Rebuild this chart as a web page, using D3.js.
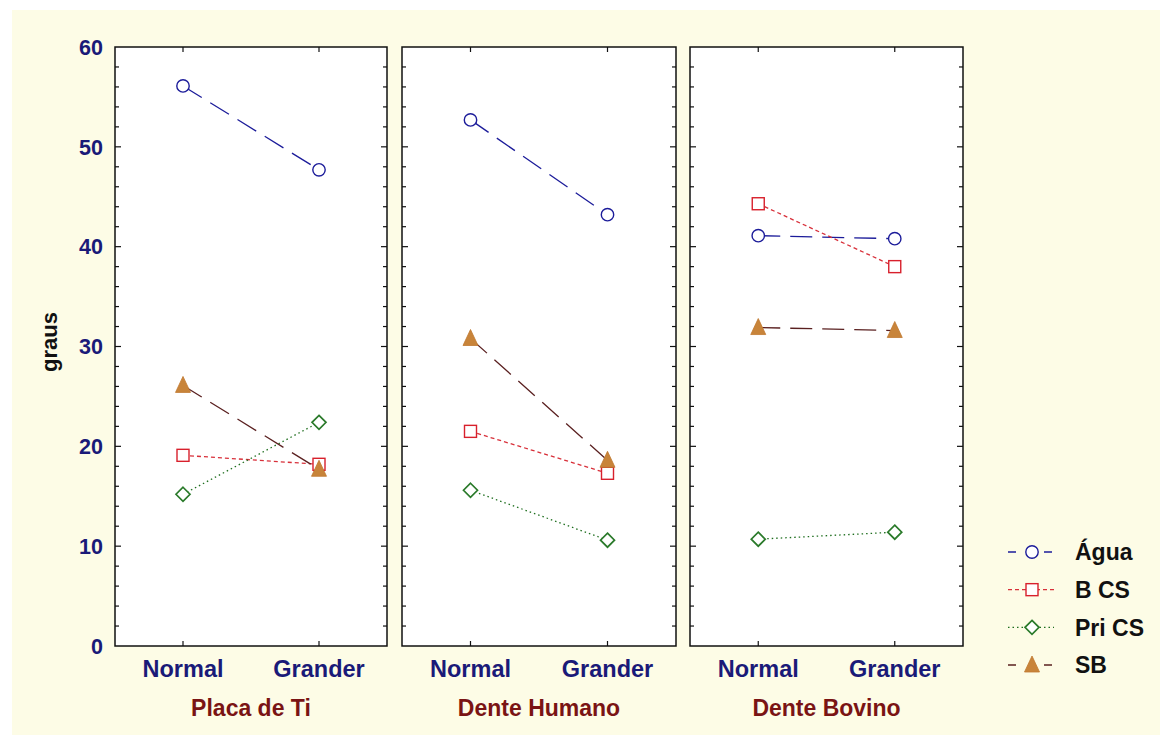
<!DOCTYPE html>
<html><head><meta charset="utf-8">
<script src="https://cdn.jsdelivr.net/npm/d3@7"></script>
<style>body{margin:0;background:#fff}svg{display:block}</style>
</head><body>
<script>
const groups = ["Placa de Ti", "Dente Humano", "Dente Bovino"];
const categories = ["Normal", "Grander"];
const seriesNames = ["Água", "B CS", "Pri CS", "SB"];
const agua  = [[56.1, 47.7], [52.7, 43.2], [41.1, 40.8]];
const bcs   = [[19.1, 18.2], [21.5, 17.3], [44.3, 38.0]];
const prics = [[15.2, 22.4], [15.6, 10.6], [10.7, 11.4]];
const sb    = [[26.1, 17.7], [30.8, 18.6], [31.9, 31.6]];
const yTicks = [0, 10, 20, 30, 40, 50, 60];

(function () {
const W = 1160, H = 735;
const svg = d3.select("body").append("svg").attr("width", W).attr("height", H);
svg.append("rect").attr("x", 12).attr("y", 10).attr("width", W - 12).attr("height", H - 10).attr("fill", "#fdfce6");

const plotTop = 47, plotBottom = 646;
const panelX = [[115, 387], [402, 676], [690, 963]];
const y = d3.scaleLinear().domain([0, 60]).range([plotBottom, plotTop]);
const FONT = "Liberation Sans, Arial, sans-serif";

const styles = [
  {name: seriesNames[0], data: agua,  line: "#1c1c9a", dash: "22,10", marker: "circle", stroke: "#1c1c9a", fill: "#fff", legDash: "8,16,2,10"},
  {name: seriesNames[1], data: bcs,   line: "#d8303a", dash: "4,3",  marker: "square", stroke: "#d8202c", fill: "#fff", legDash: "4,3"},
  {name: seriesNames[2], data: prics, line: "#1e6e1e", dash: "1.5,3", marker: "diamond", stroke: "#2a7a2a", fill: "#fff", legDash: "1.5,3"},
  {name: seriesNames[3], data: sb,    line: "#5a2020", dash: "22,10", marker: "triangle", stroke: "#c07830", fill: "#c8843a", legDash: "8,16,2,10"}
];

function drawMarker(g, type, cx, cy, st) {
  if (type === "circle") g.append("circle").attr("cx", cx).attr("cy", cy).attr("r", 6.2).attr("fill", st.fill).attr("stroke", st.stroke).attr("stroke-width", 1.4);
  else if (type === "square") g.append("rect").attr("x", cx - 6).attr("y", cy - 6).attr("width", 12).attr("height", 12).attr("fill", st.fill).attr("stroke", st.stroke).attr("stroke-width", 1.4);
  else if (type === "diamond") g.append("path").attr("d", `M${cx},${cy-7}L${cx+7},${cy}L${cx},${cy+7}L${cx-7},${cy}Z`).attr("fill", st.fill).attr("stroke", st.stroke).attr("stroke-width", 1.7);
  else g.append("path").attr("d", `M${cx},${cy-9}L${cx+7.5},${cy+7}L${cx-7.5},${cy+7}Z`).attr("fill", st.fill).attr("stroke", st.stroke).attr("stroke-width", 0.8);
}

const minorTicks = d3.range(0, 61, 2);

groups.forEach((gname, gi) => {
  const [x0, x1] = panelX[gi];
  const x = d3.scalePoint().domain(categories).range([x0, x1]).padding(0.5);
  const g = svg.append("g");
  g.append("rect").attr("x", x0).attr("y", plotTop).attr("width", x1 - x0).attr("height", plotBottom - plotTop).attr("fill", "#fff").attr("stroke", "#111").attr("stroke-width", 1.5);

  minorTicks.forEach(v => {
    const len = v % 10 === 0 ? 6 : 4;
    if (v === 0 || v === 60) return;
    g.append("line").attr("x1", x0).attr("x2", x0 + len).attr("y1", y(v)).attr("y2", y(v)).attr("stroke", "#111").attr("stroke-width", 1.2);
    g.append("line").attr("x1", x1).attr("x2", x1 - len).attr("y1", y(v)).attr("y2", y(v)).attr("stroke", "#111").attr("stroke-width", 1.2);
  });
  categories.forEach(c => {
    g.append("line").attr("x1", x(c)).attr("x2", x(c)).attr("y1", plotTop).attr("y2", plotTop + 5).attr("stroke", "#111").attr("stroke-width", 1.2);
    g.append("line").attr("x1", x(c)).attr("x2", x(c)).attr("y1", plotBottom).attr("y2", plotBottom - 5).attr("stroke", "#111").attr("stroke-width", 1.2);
    g.append("text").attr("x", x(c)).attr("y", plotBottom + 31).attr("text-anchor", "middle")
      .attr("font-family", FONT).attr("font-weight", "bold").attr("font-size", 23.5)
      .attr("fill", "#1a1a78").text(c);
  });
  g.append("text").attr("x", (x0 + x1) / 2).attr("y", plotBottom + 70).attr("text-anchor", "middle")
    .attr("font-family", FONT).attr("font-weight", "bold").attr("font-size", 23)
    .attr("fill", "#7a1414").text(gname);

  const line = d3.line().x((d, i) => x(categories[i])).y(d => y(d));
  styles.forEach(st => {
    g.append("path").attr("d", line(st.data[gi])).attr("fill", "none").attr("stroke", st.line)
      .attr("stroke-width", 1.3).attr("stroke-dasharray", st.dash);
  });
  styles.forEach(st => {
    st.data[gi].forEach((v, i) => drawMarker(g, st.marker, x(categories[i]), y(v), st));
  });
});

yTicks.forEach(v => {
  svg.append("text").attr("x", 103).attr("y", y(v)).attr("dy", "0.36em").attr("text-anchor", "end")
    .attr("font-family", FONT).attr("font-weight", "bold").attr("font-size", 21.5)
    .attr("fill", "#1a1a78").text(v);
});
svg.append("text").attr("transform", `translate(57,342) rotate(-90)`).attr("text-anchor", "middle")
  .attr("font-family", FONT).attr("font-weight", "bold").attr("font-size", 22)
  .attr("fill", "#111").text("graus");

const legY = d3.scalePoint().domain(seriesNames).range([552, 665]);
styles.forEach(st => {
  const ly = legY(st.name);
  svg.append("line").attr("x1", 1008).attr("x2", 1054).attr("y1", ly).attr("y2", ly).attr("stroke", st.line)
    .attr("stroke-width", 1.3).attr("stroke-dasharray", st.legDash);
  drawMarker(svg, st.marker, 1032, ly, st);
  svg.append("text").attr("x", 1075).attr("y", ly).attr("dy", "0.36em")
    .attr("font-family", FONT).attr("font-weight", "bold").attr("font-size", 23)
    .attr("fill", "#111").text(st.name);
});
})();
</script>
</body></html>
